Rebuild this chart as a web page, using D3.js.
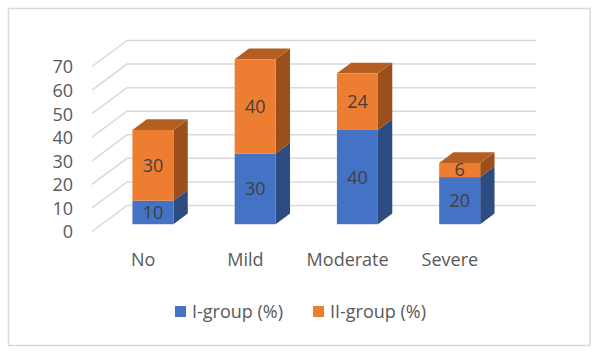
<!DOCTYPE html>
<html><head><meta charset="utf-8">
<script src="https://cdn.jsdelivr.net/npm/d3@7"></script>
<style>body{margin:0;background:#fff}svg{display:block}</style>
</head><body>
<svg id="c" width="599" height="354"></svg>
<script>
const categories = ["No", "Mild", "Moderate", "Severe"];
const seriesNames = ["I-group (%)", "II-group (%)"];
const group1 = [10, 30, 40, 20];
const group2 = [30, 40, 24, 6];
const yTicks = [0, 10, 20, 30, 40, 50, 60, 70];

const frontColors = ["#4472C4", "#ED7D31"];
const sideColors = ["#2D4C82", "#9D4F1B"];
const topColors = ["#3A63AB", "#B45E22"];
const FONT = "'Open Sans', sans-serif";

const svg = d3.select("#c");
svg.append("rect").attr("x", 8.5).attr("y", 8.5).attr("width", 581.5).attr("height", 337)
  .attr("fill", "#fff").attr("stroke", "#D9D9D9").attr("stroke-width", 1.5);

const DX = 35, DY = -26;
const x = d3.scaleBand().domain(categories).range([92, 501]).paddingInner(0).paddingOuter(0);
const y = d3.scaleLinear().domain([0, 70]).range([231.5, 66.5]);
const off = t => [DX * t, DY * t];

// gridlines
const g = svg.append("g");
yTicks.forEach(v => {
  const y0 = y(v);
  g.append("path")
    .attr("d", `M92,${y0}L${92 + DX},${y0 + DY}L536,${y0 + DY}`)
    .attr("fill", "none").attr("stroke", "#D9D9D9").attr("stroke-width", 1.5);
  g.append("text").attr("x", 73).attr("y", y0 + 0.5).attr("dy", "0.36em")
    .attr("text-anchor", "end").attr("font-family", FONT)
    .attr("font-size", 18).attr("fill", "#595959").text(v);
});

// category labels
categories.forEach(c => {
  svg.append("text").attr("x", x(c) + x.bandwidth() / 2).attr("y", 260).attr("dy", "0.36em")
    .attr("text-anchor", "middle").attr("font-family", FONT)
    .attr("font-size", 18).attr("fill", "#595959").text(c);
});

// bars
const t0 = 0.28, t1 = 0.69;
const bw = 41;
const [ox0, oy0] = off(t0);
const [ox1, oy1] = off(t1);
const sdx = ox1 - ox0, sdy = oy1 - oy0;
const series = [group1, group2];
categories.forEach((c, i) => {
  let base = 0;
  const cx = x(c) + x.bandwidth() / 2;
  const left = cx - bw / 2 + ox0;
  series.forEach((vals, s) => {
    const v = vals[i];
    const yb = y(base) + oy0, yt = y(base + v) + oy0;
    const bg = svg.append("g");
    bg.append("path").attr("d",
      `M${left + bw},${yb}L${left + bw + sdx},${yb + sdy}L${left + bw + sdx},${yt + sdy}L${left + bw},${yt}Z`)
      .attr("fill", sideColors[s]);
    if (s === series.length - 1) {
      bg.append("path").attr("d",
        `M${left},${yt}L${left + sdx},${yt + sdy}L${left + bw + sdx},${yt + sdy}L${left + bw},${yt}Z`)
        .attr("fill", topColors[s]);
    }
    bg.append("rect").attr("x", left).attr("y", yt).attr("width", bw).attr("height", yb - yt)
      .attr("fill", frontColors[s]);
    bg.append("text").attr("x", left + bw / 2).attr("y", (yb + yt) / 2).attr("dy", "0.36em")
      .attr("text-anchor", "middle").attr("font-family", FONT)
      .attr("font-size", 18).attr("fill", "#404040").text(v);
    base += v;
  });
});

// legend
const leg = [{x: 175, tx: 192}, {x: 313, tx: 330}];
seriesNames.forEach((n, s) => {
  svg.append("rect").attr("x", leg[s].x).attr("y", 306).attr("width", 11).attr("height", 11).attr("fill", frontColors[s]);
  svg.append("text").attr("x", leg[s].tx).attr("y", 312).attr("dy", "0.36em")
    .attr("font-family", FONT).attr("font-size", 18).attr("fill", "#595959").text(n);
});
</script>
</body></html>
